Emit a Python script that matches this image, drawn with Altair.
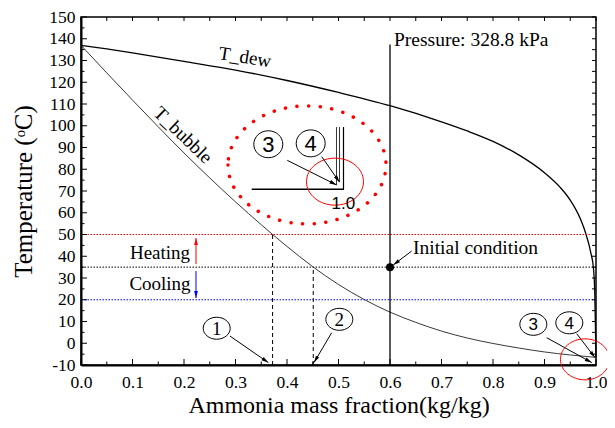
import math
import altair as alt
import pandas as pd

W, H = 515, 348
X_DOMAIN = [0.0, 1.0]
Y_DOMAIN = [-10, 150]
SERIF = "Liberation Serif"
SANS = "Liberation Sans"

# ---- curves ----
dew_x = [0, 0.05, 0.1, 0.2, 0.3, 0.4, 0.5, 0.6, 0.7, 0.75, 0.8, 0.85, 0.9, 0.93, 0.95, 0.97, 0.98, 0.99, 0.995, 0.9975, 0.999, 1.0]
dew_T = [137, 135.3, 133.5, 129.6, 125.6, 120.8, 115.3, 109.2, 101.8, 97.6, 92.8, 86.6, 78.4, 71.8, 65.8, 57, 50.6, 41.6, 34.6, 24, 6, -6.5]
bub_x = [0, 0.05, 0.1, 0.15, 0.2, 0.25, 0.3, 0.35, 0.4, 0.45, 0.5, 0.55, 0.6, 0.65, 0.7, 0.75, 0.8, 0.85, 0.9, 0.95, 1.0]
bub_T = [137, 124.3, 111.8, 99.5, 87.5, 76, 65, 54.5, 44.5, 35.2, 27, 20.1, 14.3, 9.6, 5.6, 2.4, -0.1, -2.2, -4, -5.4, -6.5]

# ---- reference levels ----
level_T = [50, 35, 20]
level_color = ["red", "black", "blue"]
drop_x = [0.372, 0.451]
drop_T = [50, 35]
pressure_x = [0.6]
pressure_top = [137.4]
init_x = [0.6]
init_T = [35]

# ---- arrows (start -> end) ----
arr_x1 = [0.2893, 0.4868, 0.9043, 0.9625, 0.6421, 0.4006, 0.4674, 0.2233, 0.2233]
arr_T1 = [3.3, 4.85, 2.55, 4.4, 42.4, 84.1, 85.8, 36.4, 33.2]
arr_x2 = [0.3637, 0.4524, 0.9917, 0.998, 0.6064, 0.4961, 0.5019, 0.2233, 0.2233]
arr_T2 = [-8.9, -8.9, -8.9, -6.6, 36.0, 72.8, 74.1, 48.4, 20.8]
arr_col = ["black", "black", "black", "black", "black", "black", "black", "red", "blue"]

# ---- inset sketch lines ----
ins_x1 = [0.3315, 0.5097, 0.4961, 0.5019]
ins_T1 = [70.8, 99.4, 99.4, 99.4]
ins_x2 = [0.5107, 0.5097, 0.4961, 0.5019]
ins_T2 = [70.8, 70.8, 72.8, 74.1]
ins_w = [1.6, 1.2, 0.8, 0.8]

# ---- circled numbers ----
num_small_x = [0.2635, 0.5016, 0.8783, 0.9482]
num_small_T = [6.9, 11.0, 8.7, 9.4]
num_small_txt = ["1", "2", "3", "4"]
num_big_x = [0.3637, 0.446]
num_big_T = [91.5, 91.9]
num_big_txt = ["3", "4"]

x_major = [0.0, 0.1, 0.2, 0.3, 0.4, 0.5, 0.6, 0.7, 0.8, 0.9, 1.0]
x_minor = [0.05, 0.15, 0.25, 0.35, 0.45, 0.55, 0.65, 0.75, 0.85, 0.95]
y_major = [-10, 0, 10, 20, 30, 40, 50, 60, 70, 80, 90, 100, 110, 120, 130, 140, 150]
y_minor = [-5, 5, 15, 25, 35, 45, 55, 65, 75, 85, 95, 105, 115, 125, 135, 145]

xs = alt.Scale(domain=X_DOMAIN, nice=False, zero=False)
ys = alt.Scale(domain=Y_DOMAIN, nice=False, zero=False)


def X(f="x", axis=None):
    if axis is None:
        return alt.X(f"{f}:Q", scale=xs)
    return alt.X(f"{f}:Q", scale=xs, axis=axis)


def Y(f="T", axis=None):
    if axis is None:
        return alt.Y(f"{f}:Q", scale=ys)
    return alt.Y(f"{f}:Q", scale=ys, axis=axis)


def ellipse(k):
    return f"M -1 0 A 1 {k} 0 1 0 1 0 A 1 {k} 0 1 0 -1 0 Z"


x_axis = alt.Axis(values=x_major, tickCount=50, format=".1f", ticks=False, grid=False,
                  domainColor="black", domainWidth=2, labelFont=SERIF, labelFontSize=17.5,
                  labelColor="black", labelPadding=8, labelFlush=False, labelOverlap=False,
                  title="Ammonia mass fraction(kg/kg)", titleFont=SERIF, titleFontSize=24,
                  titleFontWeight="normal", titleColor="black", titlePadding=3)
y_axis = alt.Axis(values=y_major, tickCount=50, labelExpr="'' + datum.value", ticks=False, grid=False,
                  domainColor="black", domainWidth=2, labelFont=SERIF, labelFontSize=17.5,
                  labelColor="black", labelPadding=6, labelFlush=False, labelOverlap=False,
                  title="Temperature (ᵒC)", titleFont=SERIF, titleFontSize=25,
                  titleFontWeight="normal", titleColor="black", titlePadding=12)

dew = pd.DataFrame({"x": dew_x, "T": dew_T})
bub = pd.DataFrame({"x": bub_x, "T": bub_T})

layers = []
layers.append(alt.Chart(dew).mark_line(color="black", strokeWidth=1.3, interpolate="monotone").encode(
    x=X(axis=x_axis), y=Y(axis=y_axis), order="x:Q"))
layers.append(alt.Chart(bub).mark_line(color="#222", strokeWidth=0.9, interpolate="monotone").encode(
    x=X(), y=Y(), order="x:Q"))

lev = pd.DataFrame({"T": level_T, "c": level_color})
layers.append(alt.Chart(lev).mark_rule(strokeDash=[1.5, 1.5], strokeWidth=1).encode(
    y=Y(), color=alt.Color("c:N", scale=None)))

drop = pd.DataFrame({"x": drop_x, "T": drop_T, "b": [-10, -10]})
layers.append(alt.Chart(drop).mark_rule(strokeDash=[4, 3], strokeWidth=1, color="black").encode(
    x=X(), y=Y("b"), y2=alt.Y2("T:Q")))

pres = pd.DataFrame({"x": pressure_x, "T": pressure_top, "b": [-10]})
layers.append(alt.Chart(pres).mark_rule(strokeWidth=1.3, color="black").encode(
    x=X(), y=Y("b"), y2=alt.Y2("T:Q")))

# arrows
sx = W / (X_DOMAIN[1] - X_DOMAIN[0])
sy = H / (Y_DOMAIN[1] - Y_DOMAIN[0])
ang = []
for a, b, c, d in zip(arr_x1, arr_T1, arr_x2, arr_T2):
    dx = (c - a) * sx
    dy = -(d - b) * sy
    ang.append(math.degrees(math.atan2(dx, -dy)) % 360)
arr = pd.DataFrame({"x": arr_x1, "T": arr_T1, "x2": arr_x2, "T2": arr_T2, "c": arr_col, "ang": ang})
layers.append(alt.Chart(arr).mark_rule(strokeWidth=1).encode(
    x=X(), y=Y(), x2=alt.X2("x2:Q"), y2=alt.Y2("T2:Q"), color=alt.Color("c:N", scale=None)))
layers.append(alt.Chart(arr).mark_point(shape="M 0 0 L 0.6 2.2 L -0.6 2.2 Z", filled=True, size=40, opacity=1).encode(
    x=X("x2"), y=Y("T2"), angle=alt.Angle("ang:Q", scale=None), color=alt.Color("c:N", scale=None)))

ins = pd.DataFrame({"x": ins_x1, "T": ins_T1, "x2": ins_x2, "T2": ins_T2, "w": ins_w})
layers.append(alt.Chart(ins).mark_rule(color="black").encode(
    x=X(), y=Y(), x2=alt.X2("x2:Q"), y2=alt.Y2("T2:Q"), strokeWidth=alt.StrokeWidth("w:Q", scale=None)))

# initial point
layers.append(alt.Chart(pd.DataFrame({"x": init_x, "T": init_T})).mark_point(
    shape="circle", filled=True, size=64, color="black", opacity=1).encode(x=X(), y=Y()))

# red ellipses
layers.append(alt.Chart(pd.DataFrame({"x": [0.9786], "T": [-7.4]})).mark_point(
    shape=ellipse(0.837), size=2401, color="red", strokeWidth=1, opacity=1).encode(x=X(), y=Y()))
layers.append(alt.Chart(pd.DataFrame({"x": [0.4932], "T": [74.3]})).mark_point(
    shape=ellipse(0.825), size=3249, color="red", strokeWidth=1, opacity=1).encode(x=X(), y=Y()))
layers.append(alt.Chart(pd.DataFrame({"x": [0.4388], "T": [82.0]})).mark_point(
    shape=ellipse(0.747), size=24964, color="red", strokeWidth=3.5, strokeDash=[0.1, 11.5],
    strokeCap="round", opacity=1).encode(x=X(), y=Y()))

# circled numbers
ns = pd.DataFrame({"x": num_small_x, "T": num_small_T, "t": num_small_txt})
layers.append(alt.Chart(ns).mark_point(shape=ellipse(0.815), size=729, color="black",
                                       strokeWidth=1, opacity=1).encode(x=X(), y=Y()))
layers.append(alt.Chart(ns.iloc[:2]).mark_text(font=SERIF, fontSize=19, color="black", baseline="middle", dy=1).encode(
    x=X(), y=Y(), text="t:N"))
layers.append(alt.Chart(ns.iloc[2:]).mark_text(font=SANS, fontSize=17, color="black", baseline="middle", dy=1).encode(
    x=X(), y=Y(), text="t:N"))
nb = pd.DataFrame({"x": num_big_x, "T": num_big_T, "t": num_big_txt})
layers.append(alt.Chart(nb).mark_point(shape=ellipse(0.93), size=841, color="black",
                                       strokeWidth=1, opacity=1).encode(x=X(), y=Y()))
layers.append(alt.Chart(nb).mark_text(font=SANS, fontSize=22, color="black", baseline="middle", dy=1).encode(
    x=X(), y=Y(), text="t:N"))
layers.append(alt.Chart(pd.DataFrame({"x": [0.5095], "T": [63.9], "t": ["1.0"]})).mark_text(
    font=SANS, fontSize=17, color="black", baseline="middle").encode(x=X(), y=Y(), text="t:N"))


# labels
def label(x, T, t, size=18, align="center", angle=0, font=SERIF):
    return alt.Chart(pd.DataFrame({"x": [x], "T": [T], "t": [t]})).mark_text(
        font=font, fontSize=size, color="black", align=align, baseline="middle", angle=angle).encode(
        x=X(), y=Y(), text="t:N")


layers.append(label(0.3184, 131.5, "T_dew", 19, angle=9))
layers.append(label(0.198, 95.7, "T_bubble", 19, angle=44))
layers.append(label(0.6078, 139.6, "Pressure: 328.8 kPa", 19.5, align="left"))
layers.append(label(0.6447, 43.9, "Initial condition", 19.5, align="left"))
layers.append(label(0.1534, 41.6, "Heating", 19))
layers.append(label(0.1534, 27.1, "Cooling", 19))


# inward ticks
def hticks(vals, y0, y1):
    return alt.Chart(pd.DataFrame({"x": vals})).mark_rule(color="black", strokeWidth=1).encode(
        x=X(), y=alt.value(y0), y2=alt.value(y1))


def vticks(vals, x0, x1):
    return alt.Chart(pd.DataFrame({"T": vals})).mark_rule(color="black", strokeWidth=1).encode(
        y=Y(), x=alt.value(x0), x2=alt.value(x1))


layers.append(hticks(x_major, H, H - 6))
layers.append(hticks(x_minor, H, H - 3.5))
layers.append(hticks(x_major + x_minor, 0, 4))
layers.append(vticks(y_major, 0, 6))
layers.append(vticks(y_minor, 0, 3.5))
layers.append(vticks(y_major + y_minor, W, W - 4))

chart = alt.layer(*layers).properties(
    width=W, height=H,
    autosize=alt.AutoSizeParams(type="none"),
    padding={"left": 73, "top": 9, "right": 11, "bottom": 54},
).configure(background="white").configure_view(
    stroke="black", strokeWidth=1.5
).configure_axis(labelOverlap=False, labelFlush=False)

chart.save("out.html", embed_options={"renderer": "svg", "actions": False})
